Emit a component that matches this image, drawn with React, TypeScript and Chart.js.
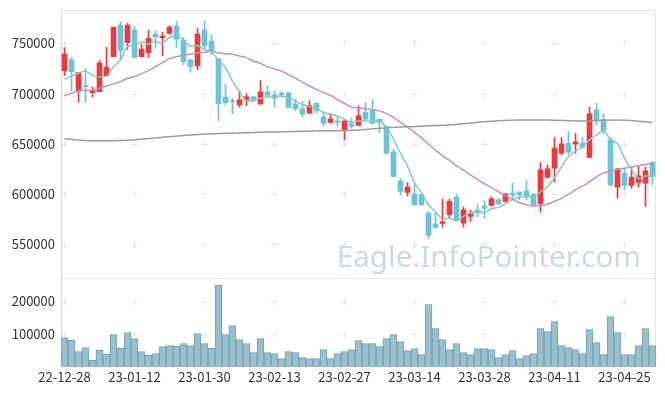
import React, { useEffect, useRef } from 'react';
import { Chart, registerables } from 'chart.js';

Chart.register(...registerables);

const dates = [
  '22-12-28', '22-12-29', '23-01-02', '23-01-03', '23-01-04', '23-01-05', '23-01-06', '23-01-09', '23-01-10', '23-01-11',
  '23-01-12', '23-01-13', '23-01-16', '23-01-17', '23-01-18', '23-01-19', '23-01-20', '23-01-25', '23-01-26', '23-01-27',
  '23-01-30', '23-01-31', '23-02-01', '23-02-02', '23-02-03', '23-02-06', '23-02-07', '23-02-08', '23-02-09', '23-02-10',
  '23-02-13', '23-02-14', '23-02-15', '23-02-16', '23-02-17', '23-02-20', '23-02-21', '23-02-22', '23-02-23', '23-02-24',
  '23-02-27', '23-02-28', '23-03-02', '23-03-03', '23-03-06', '23-03-07', '23-03-08', '23-03-09', '23-03-10', '23-03-13',
  '23-03-14', '23-03-15', '23-03-16', '23-03-17', '23-03-20', '23-03-21', '23-03-22', '23-03-23', '23-03-24', '23-03-27',
  '23-03-28', '23-03-29', '23-03-30', '23-03-31', '23-04-03', '23-04-04', '23-04-05', '23-04-06', '23-04-07', '23-04-10',
  '23-04-11', '23-04-12', '23-04-13', '23-04-14', '23-04-17', '23-04-18', '23-04-19', '23-04-20', '23-04-21', '23-04-24',
  '23-04-25', '23-04-26', '23-04-27', '23-04-28', '23-05-02',
];

const opens = [
  723000, 733500, 702700, 708000, 701000, 702000, 717600, 736900, 768400, 750800,
  763400, 736900, 740900, 759500, 755800, 760100, 767400, 753500, 733600, 727600,
  763400, 752500, 734600, 696700, 692700, 688700, 693700, 696700, 689700, 701700,
  698700, 700400, 700700, 689700, 684800, 680400, 690400, 676800, 671200, 672800,
  663800, 669800, 668200, 681100, 684400, 674500, 667200, 641900, 613000, 601400,
  599800, 599100, 580800, 570200, 570600, 579200, 596800, 570900, 577500, 584000,
  588200, 588500, 594100, 592500, 600800, 601800, 603100, 599800, 590100, 616400,
  625700, 640600, 650600, 649600, 650600, 636300, 683800, 674500, 653900, 606700,
  620700, 608400, 611400, 610700, 631600,
];

const highs = [
  746000, 736000, 721000, 725300, 706700, 733200, 746200, 766500, 771700, 770100,
  766800, 749500, 763400, 762800, 761100, 767800, 772400, 755800, 734000, 765100,
  772400, 758500, 735000, 709300, 695400, 702700, 700000, 697400, 713000, 707700,
  702700, 702000, 701000, 694400, 692100, 693100, 691400, 682100, 680400, 677800,
  673000, 675500, 687800, 691100, 693700, 674800, 668000, 644600, 615400, 611400,
  609100, 600000, 582500, 580800, 594800, 594800, 599500, 586800, 584000, 589500,
  592500, 597400, 595800, 600300, 610700, 602400, 613400, 600000, 631300, 629000,
  656200, 656200, 662200, 660500, 656200, 686400, 690400, 679800, 656200, 625500,
  625700, 626700, 627300, 626700, 632200,
];

const lows = [
  718000, 702700, 691400, 691400, 696400, 702000, 717600, 736500, 733600, 744200,
  735900, 736500, 736200, 745200, 737900, 759000, 746200, 728600, 721300, 723600,
  745200, 738500, 672800, 688700, 680100, 686400, 688100, 692000, 689000, 696400,
  686400, 698000, 685800, 683100, 677100, 680000, 681100, 667800, 670500, 667200,
  653900, 665500, 668000, 672800, 670000, 661200, 640000, 617000, 599100, 598100,
  588800, 588500, 555000, 565900, 566900, 575900, 574000, 566900, 572500, 577000,
  575900, 587800, 589100, 591800, 594100, 594100, 594100, 588800, 581800, 615700,
  611700, 639000, 639900, 640600, 645600, 636000, 668800, 659900, 607400, 595800,
  604100, 605700, 606700, 587500, 609100,
];

const closes = [
  739500, 722000, 721000, 707000, 702700, 730600, 726600, 766100, 742900, 768400,
  735900, 744500, 755100, 756800, 757500, 766100, 754200, 731900, 726900, 759500,
  747500, 741900, 690100, 691100, 692100, 693700, 696700, 693000, 701700, 698400,
  695400, 698700, 686100, 685100, 679500, 688400, 683100, 670200, 674800, 671500,
  672800, 667200, 677800, 674500, 670200, 671200, 640600, 617400, 602400, 606700,
  589100, 589100, 558600, 566600, 572200, 592500, 574200, 584200, 581000, 581000,
  585800, 595100, 590100, 600100, 599100, 599100, 598100, 589100, 624000, 625000,
  645600, 649900, 641600, 651900, 646600, 679800, 673100, 663200, 609100, 625000,
  608400, 616700, 618000, 623000, 617400,
];

const volumes = [
  88950, 80870, 46530, 58650, 20270, 50570, 38450, 98040, 56630, 104100,
  85920, 46530, 35420, 40470, 61680, 64710, 62690, 70770, 64710, 101070,
  70770, 56630, 247520, 98040, 125310, 82890, 70770, 43500, 85920, 43500,
  40470, 25320, 46530, 43500, 28350, 25320, 25320, 52590, 25320, 40470,
  46530, 52590, 79860, 70770, 70770, 61680, 85920, 98040, 76830, 49560,
  55620, 37440, 188940, 116220, 82890, 52590, 70770, 43500, 37440, 55620,
  55620, 52590, 28350, 37440, 49560, 25320, 34410, 40470, 116220, 107130,
  137430, 64710, 58650, 52590, 40470, 113190, 73800, 37440, 152580, 104100,
  37440, 37440, 64710, 116220, 64710,
];

const ma5Lead = [714300, 717600, 720300, 722600];
const ma20Lead = [
  698000, 700400, 702700, 703400, 703700, 705300, 707700, 709700, 712000, 715300,
  717000, 720000, 722900, 726900, 730900, 734900, 736900, 738200, 739500,
];
// long moving average at these date indices
const longMaIdx = [0, 4, 9, 13, 18, 23, 28, 37, 42, 46, 51, 56, 60, 65, 69, 74, 79, 84];
const longMaVals = [
  654900, 653000, 653500, 655800, 658800, 660500, 661500, 662900, 663800, 666000,
  667500, 669300, 672000, 673600, 673800, 672800, 673600, 671200,
];

const priceTicks = [550000, 600000, 650000, 700000, 750000];
const volumeTicks = [100000, 200000];
const xLabelEvery = 10;

const UP = '#ee393e';
const DOWN = '#6cc3d8';
const FONT = '"Noto Sans CJK KR", "Noto Sans", sans-serif';

function movingAverage(values: number[], period: number, lead: number[]) {
  return values.map((_, i) => {
    if (i < period - 1) return lead[i];
    let s = 0;
    for (let k = i - period + 1; k <= i; k++) s += values[k];
    return s / period;
  });
}

const framePlugin = {
  id: 'frame',
  beforeDatasetsDraw(chart: any) {
    const { ctx, chartArea } = chart;
    const xs = chart.scales.x;
    const ys = chart.scales.y;
    const vs = chart.scales.vol;
    ctx.save();
    // watermark
    ctx.font = '29.6px "Noto Sans", sans-serif';
    ctx.fillStyle = '#c8dae4';
    ctx.textAlign = 'right';
    ctx.textBaseline = 'alphabetic';
    ctx.fillText('Eagle.InfoPointer.com', chartArea.right - 15, ys.bottom - 11);

    // grid crosses
    ctx.strokeStyle = '#e4e4e4';
    ctx.lineWidth = 1;
    const px = xs.ticks.map((t: any) => Math.round(xs.getPixelForValue(t.value)) - 0.5);
    const py = [
      ...ys.ticks.map((t: any) => Math.round(ys.getPixelForValue(t.value)) + 0.5),
      ...vs.ticks.map((t: any) => Math.round(vs.getPixelForValue(t.value)) + 0.5),
    ];
    ctx.beginPath();
    for (const x of px) {
      for (const y of py) {
        ctx.moveTo(x - 3, y);
        ctx.lineTo(x + 3, y);
        ctx.moveTo(x, y - 3);
        ctx.lineTo(x, y + 3);
      }
    }
    ctx.stroke();

    // pane frames
    const l = Math.round(chartArea.left) + 0.5;
    const r = Math.round(chartArea.right) - 0.5;
    const t = Math.round(chartArea.top) + 0.5;
    const mid = Math.round(vs.top) + 0.5;
    const b = Math.round(chartArea.bottom);
    ctx.strokeStyle = '#e4e4e4';
    ctx.beginPath();
    ctx.moveTo(l, t);
    ctx.lineTo(r, t);
    ctx.moveTo(l, mid);
    ctx.lineTo(r, mid);
    ctx.moveTo(r, t);
    ctx.lineTo(r, b);
    ctx.stroke();
    ctx.strokeStyle = '#d8d8d8';
    ctx.beginPath();
    ctx.moveTo(l, t);
    ctx.lineTo(l, b);
    ctx.stroke();
    ctx.restore();
  },
};

export default function App() {
  const ref = useRef<HTMLCanvasElement>(null);

  useEffect(() => {
    document.body.style.margin = '0';
    const ma5 = movingAverage(closes, 5, ma5Lead);
    const ma20 = movingAverage(closes, 20, ma20Lead);
    const longMa: (number | null)[] = dates.map(() => null);
    longMaIdx.forEach((idx, k) => {
      longMa[idx] = longMaVals[k];
    });
    const colors = closes.map((c, i) => (c >= opens[i] ? UP : DOWN));

    const tickFont = { family: FONT, size: 13 };
    const plain = (v: any) => String(v);
    const noPad = (s: any) => {
      s.paddingTop = 0;
      s.paddingBottom = 0;
      s.paddingLeft = 0;
      s.paddingRight = 0;
    };

    const chart = new Chart(ref.current as HTMLCanvasElement, {
      type: 'bar',
      data: {
        labels: dates,
        datasets: [
          {
            type: 'line',
            data: ma5,
            yAxisID: 'y',
            borderColor: '#86c9bf',
            borderWidth: 1.5,
            pointRadius: 0,
            tension: 0.3,
            order: 0,
          } as any,
          {
            type: 'line',
            data: ma20,
            yAxisID: 'y',
            borderColor: '#c98cc1',
            borderWidth: 1.5,
            pointRadius: 0,
            tension: 0.3,
            order: 0,
          } as any,
          {
            type: 'line',
            data: longMa,
            yAxisID: 'y',
            borderColor: '#9c9c9c',
            borderWidth: 1.5,
            pointRadius: 0,
            spanGaps: true,
            cubicInterpolationMode: 'monotone',
            order: 0,
          } as any,
          {
            type: 'bar',
            data: lows.map((lo, i) => [lo, highs[i]]),
            yAxisID: 'y',
            backgroundColor: colors,
            barThickness: 1,
            grouped: false,
            order: 1,
          } as any,
          {
            type: 'bar',
            data: opens.map((o, i) => [o, closes[i]]),
            yAxisID: 'y',
            backgroundColor: colors,
            barThickness: 5,
            grouped: false,
            order: 1,
          } as any,
          {
            type: 'bar',
            data: volumes,
            yAxisID: 'vol',
            backgroundColor: '#9cbfce',
            borderColor: '#6f9fb6',
            borderWidth: 1,
            categoryPercentage: 1,
            barPercentage: 1,
            grouped: false,
            order: 2,
          } as any,
        ],
      },
      options: {
        animation: false,
        responsive: true,
        maintainAspectRatio: false,
        layout: { padding: { top: 10, right: 9, left: 0, bottom: 0 } },
        plugins: { legend: { display: false }, tooltip: { enabled: false } },
        scales: {
          x: {
            type: 'category',
            offset: true,
            grid: { display: false, drawTicks: false },
            border: { display: false },
            ticks: { autoSkip: false, maxRotation: 0, padding: 2, font: tickFont, color: '#333' },
            afterBuildTicks: (s: any) => {
              s.ticks = s.ticks.filter((t: any) => t.value % xLabelEvery === 0);
            },
            afterFit: (s: any) => {
              s.height = 29;
              noPad(s);
            },
          },
          vol: {
            type: 'linear',
            position: 'left',
            stack: 'panes',
            stackWeight: 1,
            min: 0,
            max: 270000,
            grid: { display: false, drawTicks: false },
            border: { display: false },
            ticks: { padding: 6, font: tickFont, color: '#333', callback: plain },
            afterBuildTicks: (s: any) => {
              s.ticks = volumeTicks.map((v) => ({ value: v }));
            },
            afterFit: (s: any) => {
              s.width = 61;
              noPad(s);
            },
          },
          y: {
            type: 'linear',
            position: 'left',
            stack: 'panes',
            stackWeight: 3,
            min: 516400,
            max: 783400,
            grid: { display: false, drawTicks: false },
            border: { display: false },
            ticks: { padding: 6, font: tickFont, color: '#333', callback: plain },
            afterBuildTicks: (s: any) => {
              s.ticks = priceTicks.map((v) => ({ value: v }));
            },
            afterFit: (s: any) => {
              s.width = 61;
              noPad(s);
            },
          },
        },
      } as any,
      plugins: [framePlugin],
    });
    return () => chart.destroy();
  }, []);

  return (
    <div style={{ width: 665, height: 396, position: 'relative' }}>
      <canvas ref={ref} />
    </div>
  );
}
